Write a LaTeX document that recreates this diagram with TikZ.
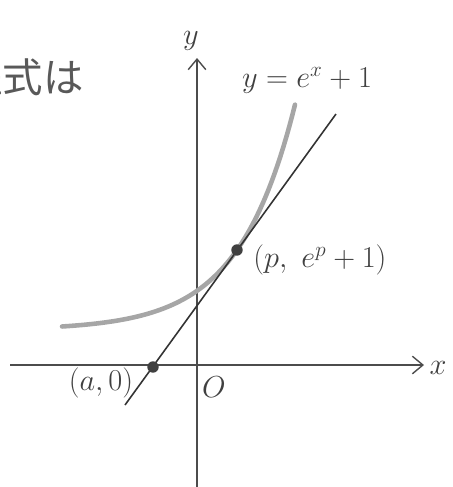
\documentclass[tikz,border=0pt]{standalone}
\usepackage{fontspec}
\newfontfamily\jpfont{Noto Sans CJK JP}
\usepackage{tikz}
\usetikzlibrary{arrows.meta}
\usetikzlibrary{positioning}

\begin{document}
\begin{tikzpicture}[x=0.02cm,y=-0.02cm,
		hand/.style={text=black!75,font=\fontsize{17}{20}\selectfont},
		dot/.style={circle,fill=black!75,inner sep=0pt,minimum size=6.5pt}]
		\useasboundingbox (0,0) rectangle (453,487);
		\clip (0,0) rectangle (453,487);

		% axes
		\coordinate (xl) at (10,365);
		\coordinate (xr) at (424,365);
		\coordinate (yb) at (197,490);
		\coordinate (yt) at (197,58);
		\begin{scope}[>={Straight Barb[length=6pt,width=10pt,line width=0.8pt]}]
			\draw[black!70,line width=0.7pt,->] (xl) -- (xr);
			\draw[black!70,line width=0.7pt,->] (yb) -- (yt);
		\end{scope}

		\begin{scope}[every node/.style={hand}]
			\node (xlab) at (438,368) {$x$};
			\node (ylab) at (191,41) {$y$};
			\node (o) at (214,387) {$O$};
			\node (fn) at (307,80) {$y=e^{x}+1$};
			\node[text=black!65,font=\jpfont\fontsize{23}{26}\selectfont,anchor=west,inner sep=0pt] (head) at (-38,77) {程式は};
		\end{scope}

		% curve
		\draw[black!35,line width=2.6pt,line cap=round] plot[domain=62:295,samples=80]
			(\x,{330-80*exp((\x-237)/56)});

		% tangent
		\coordinate (t1) at (125,405);
		\coordinate (t2) at (336,114);
		\draw[black!80,line width=0.9pt] (t1) -- (t2);
		\node[dot] (a) at (153,367) {};
		\node[dot] (p) at (237,250) {};

		\node[hand] (alab) at (101,383) {$(a,0)$};
		\node[hand] (plab) at (320,260) {$(p,\ e^{p}+1)$};
	\end{tikzpicture}
\end{document}
